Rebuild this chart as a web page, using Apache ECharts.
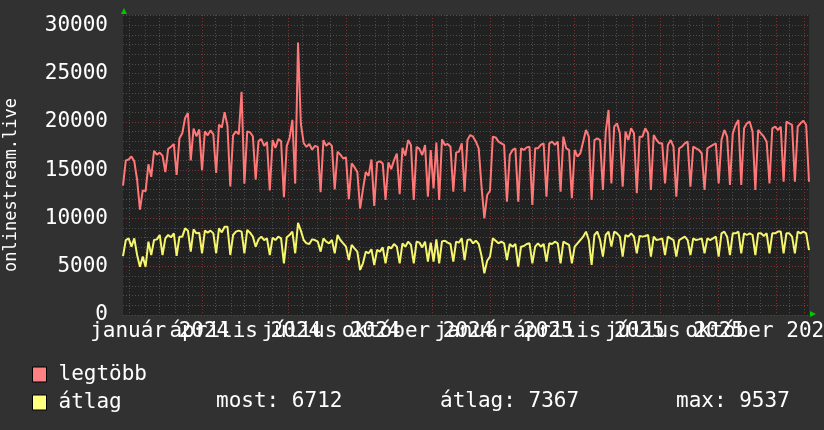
<!DOCTYPE html>
<html><head><meta charset="utf-8">
<script src="https://cdn.jsdelivr.net/npm/echarts@6/dist/echarts.min.js"></script>
<style>html,body{margin:0;padding:0;background:#313131}#c{width:824px;height:430px}</style>
</head><body><div id="c"></div>
<script>
// ---- data (one sample every 3 days) ----
const startDate = '2023-12-08';
const stepDays = 3;
const seriesNames = ['legtöbb', 'átlag'];
const legtobb = [
13400,16000,16100,16400,15900,14000,10900,12900,12800,15600,
14300,17000,16600,16800,16500,14800,17200,17400,17700,14500,
18300,18800,20400,20900,16000,19300,18500,19200,15000,19000,
18600,19100,18700,14700,19700,19400,21000,19600,13300,18600,
19000,18700,23100,13600,19000,18900,18500,14000,18000,18200,
17500,17900,12900,18100,17300,18200,18000,12200,17500,18300,
20200,13600,28200,19800,17800,17400,17700,17100,17500,17400,
12700,18100,17500,17800,17500,13000,16900,16600,16200,16300,
12000,15700,15300,14800,11000,13000,14800,14400,16100,11300,
15800,15900,15700,11900,15800,15100,16000,16700,12500,17300,
16500,18100,17600,11900,17400,17200,16560,17600,12250,17080,
13110,17840,11900,18180,17600,17700,17420,12770,16800,16910,
17770,12770,18110,18630,18460,17940,17250,13280,10010,12420,
12860,18460,18380,17940,17770,17600,11730,16560,17080,17250,
11730,17250,17080,17350,17420,11390,17250,17250,17600,17770,
12250,17770,17940,17600,17940,12770,18460,17250,17080,12080,
17080,16390,16740,17940,19150,18460,11900,18110,18290,18110,
12940,18980,21220,13620,19490,19840,18800,13280,18980,18110,
19320,18800,12600,18460,18460,19320,18800,12940,18630,18110,
17770,17770,13620,17600,18110,17420,12250,17250,17420,17770,
17940,13280,17420,17250,17080,16740,12940,17250,17420,17600,
17770,13620,18110,19150,18460,13450,18800,19670,20180,13450,
19320,19840,20010,18980,12940,19150,18800,18460,17940,13620,
19320,19490,19150,19490,13790,20010,19840,19670,13790,19490,
19840,20100,19670,13790
];
const atlag = [
6100,7760,7930,7070,7930,6210,5000,6040,5000,7590,
6210,7760,7830,8280,6210,7930,8280,8040,8450,6120,
8110,8110,8970,8730,6560,8870,8450,8520,6390,8730,
8520,8730,8450,6390,8970,8560,9140,9140,6210,8280,
8630,8730,8630,6390,8800,8520,8110,7070,7830,8110,
7760,7930,6210,8000,7760,8110,7930,5350,8040,8280,
8630,6390,9537,8730,7760,7420,7350,7830,7760,7590,
6560,7930,7590,7420,7760,6390,8280,7760,7420,7070,
5690,7250,6900,6560,4660,5350,6560,6390,6800,5180,
6730,6560,7000,5350,7070,6900,7350,7070,5350,7420,
7070,7590,7250,5350,7590,7490,7000,7590,5520,7490,
5520,7830,5350,7620,7690,7490,7350,5520,7590,7490,
7930,5690,7760,7830,7420,7690,7350,6120,4320,5620,
6040,7930,7690,7420,7590,7420,5690,7350,7070,7350,
5000,7070,7140,7350,7420,5350,7070,7420,7070,7350,
5520,7420,7350,7590,7420,5350,7590,7420,7250,5350,
7070,7420,7760,8110,8630,7760,5180,8280,8630,7760,
6040,8280,8630,7070,8630,8450,8110,6040,8280,8110,
8450,8110,6390,8180,8110,8180,8280,6040,8110,7760,
7830,7930,6210,8110,7930,7760,6040,7760,7930,8110,
7760,6210,7930,7760,7830,7930,6390,7930,7760,7930,
8110,6040,8450,8630,8110,6210,8450,8450,8630,6390,
8450,8280,8450,8280,6210,8450,8450,8180,8450,6390,
8450,8450,8630,8630,6390,8450,8450,8110,6390,8630,
8450,8630,8450,6712
];
const yTicks = [0, 5000, 10000, 15000, 20000, 25000, 30000];
const yMax = 31050;
const xTickLabels = ['január 2024', 'április 2024', 'július 2024', 'október 2024',
                     'január 2025', 'április 2025', 'július 2025', 'október 2025'];
const yName = 'onlinestream.live';
const statTexts = ['most: 6712', 'átlag: 7367', 'max: 9537'];

// ---- build ----
const FONT = "'DejaVu Sans Mono', monospace";
const DAY = 86400000;
const t0 = Date.parse(startDate + 'T00:00:00Z');
const xs = legtobb.map((_, i) => t0 + i * stepDays * DAY);
const monthStarts = [], midMonths = [Date.UTC(2023, 11, 15)];
for (let y = 2024; y <= 2025; y++) for (let m = 0; m < 12; m++) {
  monthStarts.push(Date.UTC(y, m, 1));
  midMonths.push(Date.UTC(y, m, 15));
}
const labelPos = xTickLabels.map((_, k) => Date.UTC(2024 + Math.floor(k / 4), (k % 4) * 3, 16));
const labelPosEven = labelPos.filter((_, k) => k % 2 === 0);
const labelPosOdd = labelPos.filter((_, k) => k % 2 === 1);
function xLabel(v) {
  let best = 0, bd = Infinity;
  labelPos.forEach((p, k) => { const d = Math.abs(p - v); if (d < bd) { bd = d; best = k; } });
  return xTickLabels[best];
}
const xMin = xs[0], xMax = xs[xs.length - 1];
const PLOT_H = 300;

const xLabelStyle = {formatter: xLabel, hideOverlap: false, showMinLabel: true, showMaxLabel: true,
                     color: '#fff', fontFamily: FONT, fontSize: 21, margin: 6};

const legendCommon = {
  orient: 'vertical', left: 32, icon: 'rect', itemWidth: 14, itemHeight: 15, padding: 0,
  selectedMode: false,
  textStyle: {color: '#fff', fontFamily: FONT, fontSize: 21, padding: [0, 0, 0, 7]},
  itemStyle: {borderColor: '#000', borderWidth: 1}
};

const chart = echarts.init(document.getElementById('c'), null, {renderer: 'canvas'});
chart.setOption({
  animation: false,
  backgroundColor: '#313131',
  grid: {left: 123, top: 15, width: 686, height: PLOT_H, show: true, backgroundColor: '#212121', borderWidth: 0,
         containLabel: false, outerBoundsMode: 'none'},
  xAxis: [
    {type: 'value', min: xMin, max: xMax, z: 1, position: 'bottom',
     axisLine: {show: false}, axisTick: {show: false, customValues: monthStarts},
     splitLine: {show: true, lineStyle: {color: '#7a3434', type: [1, 2], width: 1}},
     axisLabel: Object.assign({customValues: labelPosEven}, xLabelStyle)},
    {type: 'value', min: xMin, max: xMax, position: 'top', offset: -PLOT_H, z: 0,
     axisLine: {show: false}, axisTick: {show: false, customValues: midMonths},
     axisLabel: Object.assign({customValues: labelPosOdd, inside: true}, xLabelStyle),
     splitLine: {show: true, lineStyle: {color: '#4e4e4e', type: [1, 2], width: 1}}}
  ],
  yAxis: [
    {type: 'value', min: 0, max: yMax, z: 1,
     axisLine: {show: false}, axisTick: {show: false, customValues: yTicks},
     splitLine: {show: true, lineStyle: {color: '#7a3434', type: [1, 2], width: 1}},
     axisLabel: {customValues: yTicks, formatter: v => String(v), color: '#fff', fontFamily: FONT, fontSize: 21, margin: 15}},
    {type: 'value', min: 0, max: yMax, interval: 1000, position: 'right', z: 0,
     axisLine: {show: false}, axisTick: {show: false}, axisLabel: {show: false},
     splitLine: {show: true, lineStyle: {color: '#4e4e4e', type: [1, 2], width: 1}}}
  ],
  legend: [
    Object.assign({}, legendCommon, {top: 364, data: [{name: seriesNames[0], itemStyle: {color: '#ff8080'}}]}),
    Object.assign({}, legendCommon, {top: 392, data: [{name: seriesNames[1], itemStyle: {color: '#ffff80'}}]})
  ],
  series: [
    {name: seriesNames[0], type: 'line', xAxisIndex: 0, yAxisIndex: 0, z: 3, symbol: 'none', showSymbol: false,
     data: xs.map((x, i) => [x, legtobb[i]]), lineStyle: {width: 2, color: '#ff7878'}, itemStyle: {color: '#ff7878'}},
    {name: seriesNames[1], type: 'line', xAxisIndex: 0, yAxisIndex: 0, z: 3, symbol: 'none', showSymbol: false,
     data: xs.map((x, i) => [x, atlag[i]]), lineStyle: {width: 2, color: '#f5f56e'}, itemStyle: {color: '#f5f56e'}}
  ],
  graphic: [
    {type: 'text', x: 12, y: 185, rotation: Math.PI / 2,
     style: {text: yName, fill: '#fff', font: "17px 'DejaVu Sans Mono'", align: 'center', verticalAlign: 'middle'}},
    {type: 'text', x: 216, y: 402, style: {text: statTexts[0], fill: '#fff', font: "21px 'DejaVu Sans Mono'", verticalAlign: 'middle'}},
    {type: 'text', x: 440, y: 402, style: {text: statTexts[1], fill: '#fff', font: "21px 'DejaVu Sans Mono'", verticalAlign: 'middle'}},
    {type: 'text', x: 676, y: 402, style: {text: statTexts[2], fill: '#fff', font: "21px 'DejaVu Sans Mono'", verticalAlign: 'middle'}},
    {type: 'polygon', shape: {points: [[121, 14], [127, 14], [124, 8]]}, style: {fill: '#00c800'}},
    {type: 'polygon', shape: {points: [[810, 311], [810, 317], [816, 314]]}, style: {fill: '#00c800'}}
  ]
});
</script></body></html>
